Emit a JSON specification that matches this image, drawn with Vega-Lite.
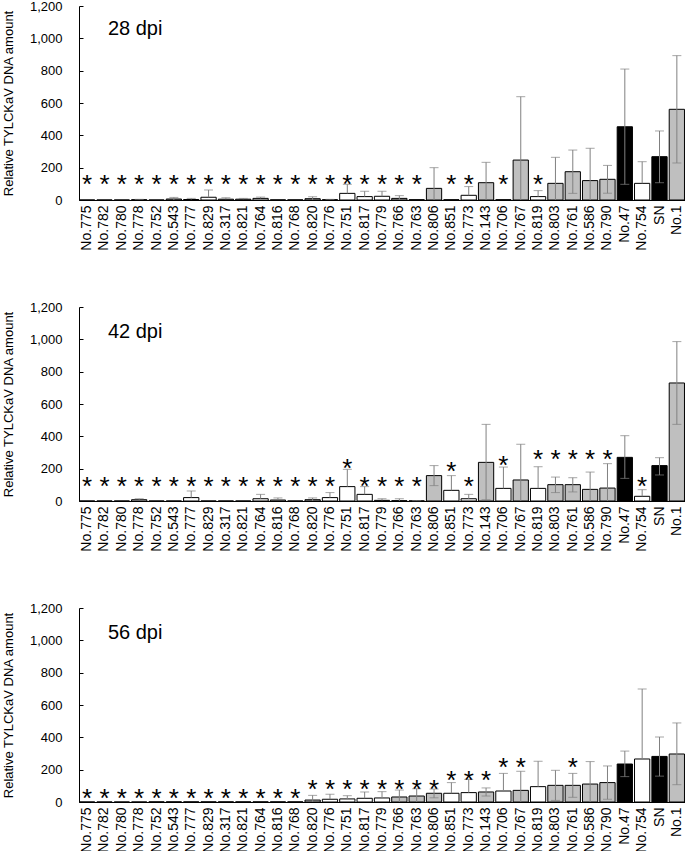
{
  "$schema": "https://vega.github.io/schema/vega-lite/v6.json",
  "padding": {"left": 2, "top": 0, "right": 0, "bottom": 0},
  "config": {
    "font": "Liberation Sans",
    "view": {"stroke": null},
    "axis": {"labelColor": "#000", "titleColor": "#000", "domainColor": "#000", "tickColor": "#000", "grid": false, "titleFontWeight": "normal"},
    "axisY": {"labelOverlap": false, "labelFontSize": 13, "titleFontSize": 13, "tickSize": -4, "labelPadding": 21, "titlePadding": 14, "format": ",d", "values": [0, 200, 400, 600, 800, 1000, 1200]},
    "concat": {"spacing": 50}
  },
  "datasets": {
    "d": [
      {"dpi": 28, "g": "No.775", "c": "w", "v": 0, "hi": 0, "lo": 0, "cap": null, "s": 134},
      {"dpi": 28, "g": "No.782", "c": "w", "v": 0, "hi": 0, "lo": 0, "cap": null, "s": 134},
      {"dpi": 28, "g": "No.780", "c": "w", "v": 0, "hi": 0, "lo": 0, "cap": null, "s": 134},
      {"dpi": 28, "g": "No.778", "c": "w", "v": 2, "hi": 4, "lo": 2, "cap": null, "s": 134},
      {"dpi": 28, "g": "No.752", "c": "w", "v": 0, "hi": 0, "lo": 0, "cap": null, "s": 134},
      {"dpi": 28, "g": "No.543", "c": "g", "v": 6, "hi": 16, "lo": 0, "cap": null, "s": 134},
      {"dpi": 28, "g": "No.777", "c": "w", "v": 3, "hi": 10, "lo": 3, "cap": null, "s": 134},
      {"dpi": 28, "g": "No.829", "c": "w", "v": 17, "hi": 62, "lo": 17, "cap": null, "s": 134},
      {"dpi": 28, "g": "No.317", "c": "w", "v": 5, "hi": 14, "lo": 5, "cap": null, "s": 134},
      {"dpi": 28, "g": "No.821", "c": "w", "v": 5, "hi": 10, "lo": 5, "cap": null, "s": 134},
      {"dpi": 28, "g": "No.764", "c": "w", "v": 10, "hi": 18, "lo": 10, "cap": null, "s": 134},
      {"dpi": 28, "g": "No.816", "c": "w", "v": 1, "hi": 1, "lo": 1, "cap": null, "s": 134},
      {"dpi": 28, "g": "No.768", "c": "w", "v": 1, "hi": 1, "lo": 1, "cap": null, "s": 134},
      {"dpi": 28, "g": "No.820", "c": "g", "v": 8, "hi": 20, "lo": 0, "cap": null, "s": 134},
      {"dpi": 28, "g": "No.776", "c": "w", "v": 2, "hi": 4, "lo": 2, "cap": null, "s": 134},
      {"dpi": 28, "g": "No.751", "c": "w", "v": 41, "hi": 97, "lo": 41, "cap": null, "s": 134},
      {"dpi": 28, "g": "No.817", "c": "w", "v": 21, "hi": 54, "lo": 21, "cap": null, "s": 134},
      {"dpi": 28, "g": "No.779", "c": "w", "v": 23, "hi": 54, "lo": 23, "cap": null, "s": 134},
      {"dpi": 28, "g": "No.766", "c": "g", "v": 10, "hi": 27, "lo": 0, "cap": null, "s": 134},
      {"dpi": 28, "g": "No.763", "c": "g", "v": 2, "hi": 2, "lo": 2, "cap": null, "s": 134},
      {"dpi": 28, "g": "No.806", "c": "g", "v": 72, "hi": 200, "lo": 0, "cap": null, "s": null},
      {"dpi": 28, "g": "No.851", "c": "w", "v": 2, "hi": 2, "lo": 2, "cap": null, "s": 134},
      {"dpi": 28, "g": "No.773", "c": "w", "v": 29, "hi": 83, "lo": 29, "cap": null, "s": 134},
      {"dpi": 28, "g": "No.143", "c": "g", "v": 107, "hi": 233, "lo": 0, "cap": null, "s": null},
      {"dpi": 28, "g": "No.706", "c": "w", "v": 2, "hi": 2, "lo": 2, "cap": null, "s": 134},
      {"dpi": 28, "g": "No.767", "c": "g", "v": 247, "hi": 639, "lo": 0, "cap": null, "s": null},
      {"dpi": 28, "g": "No.819", "c": "w", "v": 21, "hi": 58, "lo": 21, "cap": null, "s": 134},
      {"dpi": 28, "g": "No.803", "c": "g", "v": 103, "hi": 264, "lo": 0, "cap": null, "s": null},
      {"dpi": 28, "g": "No.761", "c": "g", "v": 175, "hi": 309, "lo": 41, "cap": 41, "s": null},
      {"dpi": 28, "g": "No.586", "c": "g", "v": 120, "hi": 320, "lo": 0, "cap": null, "s": null},
      {"dpi": 28, "g": "No.790", "c": "g", "v": 128, "hi": 214, "lo": 42, "cap": 42, "s": null},
      {"dpi": 28, "g": "No.47", "c": "b", "v": 453, "hi": 810, "lo": 97, "cap": 97, "s": null},
      {"dpi": 28, "g": "No.754", "c": "w", "v": 103, "hi": 237, "lo": 103, "cap": null, "s": null},
      {"dpi": 28, "g": "SN", "c": "b", "v": 268, "hi": 427, "lo": 107, "cap": 107, "s": null},
      {"dpi": 28, "g": "No.1", "c": "g", "v": 561, "hi": 893, "lo": 229, "cap": 229, "s": null},

      {"dpi": 42, "g": "No.775", "c": "w", "v": 0, "hi": 0, "lo": 0, "cap": null, "s": 128},
      {"dpi": 42, "g": "No.782", "c": "w", "v": 0, "hi": 0, "lo": 0, "cap": null, "s": 128},
      {"dpi": 42, "g": "No.780", "c": "w", "v": 0, "hi": 0, "lo": 0, "cap": null, "s": 128},
      {"dpi": 42, "g": "No.778", "c": "w", "v": 8, "hi": 14, "lo": 8, "cap": null, "s": 128},
      {"dpi": 42, "g": "No.752", "c": "w", "v": 0, "hi": 0, "lo": 0, "cap": null, "s": 128},
      {"dpi": 42, "g": "No.543", "c": "g", "v": 0, "hi": 0, "lo": 0, "cap": null, "s": 128},
      {"dpi": 42, "g": "No.777", "c": "w", "v": 21, "hi": 62, "lo": 21, "cap": null, "s": 128},
      {"dpi": 42, "g": "No.829", "c": "w", "v": 0, "hi": 0, "lo": 0, "cap": null, "s": 128},
      {"dpi": 42, "g": "No.317", "c": "w", "v": 0, "hi": 0, "lo": 0, "cap": null, "s": 128},
      {"dpi": 42, "g": "No.821", "c": "w", "v": 0, "hi": 0, "lo": 0, "cap": null, "s": 128},
      {"dpi": 42, "g": "No.764", "c": "w", "v": 14, "hi": 41, "lo": 14, "cap": null, "s": 128},
      {"dpi": 42, "g": "No.816", "c": "w", "v": 6, "hi": 19, "lo": 6, "cap": null, "s": 128},
      {"dpi": 42, "g": "No.768", "c": "w", "v": 0, "hi": 0, "lo": 0, "cap": null, "s": 128},
      {"dpi": 42, "g": "No.820", "c": "g", "v": 8, "hi": 19, "lo": 0, "cap": null, "s": 128},
      {"dpi": 42, "g": "No.776", "c": "w", "v": 21, "hi": 52, "lo": 21, "cap": null, "s": 128},
      {"dpi": 42, "g": "No.751", "c": "w", "v": 89, "hi": 196, "lo": 89, "cap": null, "s": 241},
      {"dpi": 42, "g": "No.817", "c": "w", "v": 41, "hi": 89, "lo": 41, "cap": null, "s": 128},
      {"dpi": 42, "g": "No.779", "c": "w", "v": 4, "hi": 14, "lo": 4, "cap": null, "s": 128},
      {"dpi": 42, "g": "No.766", "c": "g", "v": 2, "hi": 14, "lo": 0, "cap": null, "s": 128},
      {"dpi": 42, "g": "No.763", "c": "g", "v": 1, "hi": 2, "lo": 0, "cap": null, "s": 128},
      {"dpi": 42, "g": "No.806", "c": "g", "v": 157, "hi": 219, "lo": 95, "cap": 95, "s": null},
      {"dpi": 42, "g": "No.851", "c": "w", "v": 66, "hi": 157, "lo": 66, "cap": null, "s": 221},
      {"dpi": 42, "g": "No.773", "c": "w", "v": 14, "hi": 41, "lo": 14, "cap": null, "s": 128},
      {"dpi": 42, "g": "No.143", "c": "g", "v": 239, "hi": 474, "lo": 8, "cap": 8, "s": null},
      {"dpi": 42, "g": "No.706", "c": "w", "v": 78, "hi": 210, "lo": 78, "cap": null, "s": 258},
      {"dpi": 42, "g": "No.767", "c": "g", "v": 130, "hi": 351, "lo": 0, "cap": null, "s": null},
      {"dpi": 42, "g": "No.819", "c": "w", "v": 78, "hi": 212, "lo": 78, "cap": null, "s": 295},
      {"dpi": 42, "g": "No.803", "c": "g", "v": 101, "hi": 148, "lo": 52, "cap": 52, "s": 295},
      {"dpi": 42, "g": "No.761", "c": "g", "v": 101, "hi": 144, "lo": 56, "cap": 56, "s": 295},
      {"dpi": 42, "g": "No.586", "c": "g", "v": 72, "hi": 179, "lo": 0, "cap": null, "s": 295},
      {"dpi": 42, "g": "No.790", "c": "g", "v": 80, "hi": 231, "lo": 0, "cap": null, "s": 295},
      {"dpi": 42, "g": "No.47", "c": "b", "v": 270, "hi": 404, "lo": 140, "cap": 140, "s": null},
      {"dpi": 42, "g": "No.754", "c": "w", "v": 29, "hi": 70, "lo": 29, "cap": null, "s": 128},
      {"dpi": 42, "g": "SN", "c": "b", "v": 219, "hi": 268, "lo": 161, "cap": 161, "s": null},
      {"dpi": 42, "g": "No.1", "c": "g", "v": 730, "hi": 986, "lo": 474, "cap": 474, "s": null},

      {"dpi": 56, "g": "No.775", "c": "w", "v": 0, "hi": 0, "lo": 0, "cap": null, "s": 64},
      {"dpi": 56, "g": "No.782", "c": "w", "v": 0, "hi": 0, "lo": 0, "cap": null, "s": 64},
      {"dpi": 56, "g": "No.780", "c": "w", "v": 0, "hi": 0, "lo": 0, "cap": null, "s": 64},
      {"dpi": 56, "g": "No.778", "c": "w", "v": 0, "hi": 0, "lo": 0, "cap": null, "s": 64},
      {"dpi": 56, "g": "No.752", "c": "w", "v": 1, "hi": 1, "lo": 1, "cap": null, "s": 64},
      {"dpi": 56, "g": "No.543", "c": "g", "v": 1, "hi": 1, "lo": 1, "cap": null, "s": 64},
      {"dpi": 56, "g": "No.777", "c": "w", "v": 1, "hi": 1, "lo": 1, "cap": null, "s": 64},
      {"dpi": 56, "g": "No.829", "c": "w", "v": 1, "hi": 1, "lo": 1, "cap": null, "s": 64},
      {"dpi": 56, "g": "No.317", "c": "w", "v": 1, "hi": 1, "lo": 1, "cap": null, "s": 64},
      {"dpi": 56, "g": "No.821", "c": "w", "v": 1, "hi": 1, "lo": 1, "cap": null, "s": 64},
      {"dpi": 56, "g": "No.764", "c": "w", "v": 1, "hi": 1, "lo": 1, "cap": null, "s": 64},
      {"dpi": 56, "g": "No.816", "c": "w", "v": 1, "hi": 1, "lo": 1, "cap": null, "s": 64},
      {"dpi": 56, "g": "No.768", "c": "w", "v": 1, "hi": 1, "lo": 1, "cap": null, "s": 64},
      {"dpi": 56, "g": "No.820", "c": "g", "v": 12, "hi": 41, "lo": 0, "cap": null, "s": 120},
      {"dpi": 56, "g": "No.776", "c": "w", "v": 17, "hi": 48, "lo": 17, "cap": null, "s": 120},
      {"dpi": 56, "g": "No.751", "c": "w", "v": 19, "hi": 39, "lo": 19, "cap": null, "s": 120},
      {"dpi": 56, "g": "No.817", "c": "w", "v": 23, "hi": 62, "lo": 23, "cap": null, "s": 120},
      {"dpi": 56, "g": "No.779", "c": "w", "v": 25, "hi": 64, "lo": 25, "cap": null, "s": 120},
      {"dpi": 56, "g": "No.766", "c": "g", "v": 31, "hi": 74, "lo": 0, "cap": null, "s": 120},
      {"dpi": 56, "g": "No.763", "c": "g", "v": 37, "hi": 82, "lo": 0, "cap": null, "s": 120},
      {"dpi": 56, "g": "No.806", "c": "g", "v": 54, "hi": 80, "lo": 26, "cap": 26, "s": 120},
      {"dpi": 56, "g": "No.851", "c": "w", "v": 54, "hi": 120, "lo": 54, "cap": null, "s": 173},
      {"dpi": 56, "g": "No.773", "c": "w", "v": 58, "hi": 140, "lo": 58, "cap": null, "s": 173},
      {"dpi": 56, "g": "No.143", "c": "g", "v": 62, "hi": 87, "lo": 37, "cap": 37, "s": 173},
      {"dpi": 56, "g": "No.706", "c": "w", "v": 68, "hi": 177, "lo": 68, "cap": null, "s": 256},
      {"dpi": 56, "g": "No.767", "c": "g", "v": 72, "hi": 190, "lo": 0, "cap": null, "s": 256},
      {"dpi": 56, "g": "No.819", "c": "w", "v": 95, "hi": 252, "lo": 95, "cap": null, "s": null},
      {"dpi": 56, "g": "No.803", "c": "g", "v": 103, "hi": 196, "lo": 10, "cap": 10, "s": null},
      {"dpi": 56, "g": "No.761", "c": "g", "v": 103, "hi": 177, "lo": 29, "cap": 29, "s": 256},
      {"dpi": 56, "g": "No.586", "c": "g", "v": 111, "hi": 250, "lo": 0, "cap": null, "s": null},
      {"dpi": 56, "g": "No.790", "c": "g", "v": 120, "hi": 223, "lo": 17, "cap": 17, "s": null},
      {"dpi": 56, "g": "No.47", "c": "b", "v": 235, "hi": 315, "lo": 157, "cap": 157, "s": null},
      {"dpi": 56, "g": "No.754", "c": "w", "v": 266, "hi": 699, "lo": 266, "cap": null, "s": null},
      {"dpi": 56, "g": "SN", "c": "b", "v": 282, "hi": 402, "lo": 160, "cap": 160, "s": null},
      {"dpi": 56, "g": "No.1", "c": "g", "v": 297, "hi": 489, "lo": 107, "cap": 107, "s": null}
    ],
    "lab": [
      {"dpi": 28, "t": "28 dpi"},
      {"dpi": 42, "t": "42 dpi"},
      {"dpi": 56, "t": "56 dpi"}
    ]
  },
  "vconcat": [
    {
      "width": 606, "height": 194,
      "data": {"name": "d"},
      "transform": [{"filter": "datum.dpi == 28"}],
      "encoding": {
        "x": {"field": "g", "type": "nominal", "sort": null, "scale": {"paddingInner": 0.12, "paddingOuter": 0.03},
          "axis": {"title": null, "labelAngle": -90, "labelFontSize": 14, "ticks": false, "labelPadding": 5}}
      },
      "layer": [
        {"mark": {"type": "bar", "stroke": "#000", "strokeWidth": 1},
         "encoding": {
           "y": {"field": "v", "type": "quantitative", "scale": {"domain": [0, 1200]},
             "axis": {"title": "Relative TYLCKaV DNA amount"}},
           "fill": {"field": "c", "type": "nominal", "legend": null, "scale": {"domain": ["w", "g", "b"], "range": ["#ffffff", "#bfbfbf", "#000000"]}}
         }},
        {"transform": [{"filter": "datum.hi > datum.lo"}], "mark": {"type": "rule", "color": "#808080", "strokeWidth": 1},
         "encoding": {"y": {"field": "lo", "type": "quantitative"}, "y2": {"field": "hi"}}},
        {"transform": [{"filter": "datum.hi > datum.v"}], "mark": {"type": "tick", "color": "#808080", "thickness": 1, "size": 9},
         "encoding": {"y": {"field": "hi", "type": "quantitative"}}},
        {"transform": [{"filter": "isValid(datum.cap)"}], "mark": {"type": "tick", "color": "#808080", "thickness": 1, "size": 9},
         "encoding": {"y": {"field": "cap", "type": "quantitative"}}},
        {"transform": [{"filter": "isValid(datum.s)"}], "mark": {"type": "text", "text": "*", "fontSize": 26, "baseline": "alphabetic", "dy": 15, "color": "#000"},
         "encoding": {"y": {"field": "s", "type": "quantitative"}}},
        {"data": {"name": "lab"}, "transform": [{"filter": "datum.dpi == 28"}],
         "mark": {"type": "text", "fontSize": 20, "align": "center", "baseline": "middle", "dx": -4, "color": "#000"},
         "encoding": {"x": {"datum": "No.778"}, "y": {"datum": 1055}, "text": {"field": "t"}}}
      ]
    },
    {
      "width": 606, "height": 194,
      "data": {"name": "d"},
      "transform": [{"filter": "datum.dpi == 42"}],
      "encoding": {
        "x": {"field": "g", "type": "nominal", "sort": null, "scale": {"paddingInner": 0.12, "paddingOuter": 0.03},
          "axis": {"title": null, "labelAngle": -90, "labelFontSize": 14, "ticks": false, "labelPadding": 5}}
      },
      "layer": [
        {"mark": {"type": "bar", "stroke": "#000", "strokeWidth": 1},
         "encoding": {
           "y": {"field": "v", "type": "quantitative", "scale": {"domain": [0, 1200]},
             "axis": {"title": "Relative TYLCKaV DNA amount"}},
           "fill": {"field": "c", "type": "nominal", "legend": null, "scale": {"domain": ["w", "g", "b"], "range": ["#ffffff", "#bfbfbf", "#000000"]}}
         }},
        {"transform": [{"filter": "datum.hi > datum.lo"}], "mark": {"type": "rule", "color": "#808080", "strokeWidth": 1},
         "encoding": {"y": {"field": "lo", "type": "quantitative"}, "y2": {"field": "hi"}}},
        {"transform": [{"filter": "datum.hi > datum.v"}], "mark": {"type": "tick", "color": "#808080", "thickness": 1, "size": 9},
         "encoding": {"y": {"field": "hi", "type": "quantitative"}}},
        {"transform": [{"filter": "isValid(datum.cap)"}], "mark": {"type": "tick", "color": "#808080", "thickness": 1, "size": 9},
         "encoding": {"y": {"field": "cap", "type": "quantitative"}}},
        {"transform": [{"filter": "isValid(datum.s)"}], "mark": {"type": "text", "text": "*", "fontSize": 26, "baseline": "alphabetic", "dy": 15, "color": "#000"},
         "encoding": {"y": {"field": "s", "type": "quantitative"}}},
        {"data": {"name": "lab"}, "transform": [{"filter": "datum.dpi == 42"}],
         "mark": {"type": "text", "fontSize": 20, "align": "center", "baseline": "middle", "dx": -4, "color": "#000"},
         "encoding": {"x": {"datum": "No.778"}, "y": {"datum": 1045}, "text": {"field": "t"}}}
      ]
    },
    {
      "width": 606, "height": 194,
      "data": {"name": "d"},
      "transform": [{"filter": "datum.dpi == 56"}],
      "encoding": {
        "x": {"field": "g", "type": "nominal", "sort": null, "scale": {"paddingInner": 0.12, "paddingOuter": 0.03},
          "axis": {"title": null, "labelAngle": -90, "labelFontSize": 14, "ticks": false, "labelPadding": 5}}
      },
      "layer": [
        {"mark": {"type": "bar", "stroke": "#000", "strokeWidth": 1},
         "encoding": {
           "y": {"field": "v", "type": "quantitative", "scale": {"domain": [0, 1200]},
             "axis": {"title": "Relative TYLCKaV DNA amount"}},
           "fill": {"field": "c", "type": "nominal", "legend": null, "scale": {"domain": ["w", "g", "b"], "range": ["#ffffff", "#bfbfbf", "#000000"]}}
         }},
        {"transform": [{"filter": "datum.hi > datum.lo"}], "mark": {"type": "rule", "color": "#808080", "strokeWidth": 1},
         "encoding": {"y": {"field": "lo", "type": "quantitative"}, "y2": {"field": "hi"}}},
        {"transform": [{"filter": "datum.hi > datum.v"}], "mark": {"type": "tick", "color": "#808080", "thickness": 1, "size": 9},
         "encoding": {"y": {"field": "hi", "type": "quantitative"}}},
        {"transform": [{"filter": "isValid(datum.cap)"}], "mark": {"type": "tick", "color": "#808080", "thickness": 1, "size": 9},
         "encoding": {"y": {"field": "cap", "type": "quantitative"}}},
        {"transform": [{"filter": "isValid(datum.s)"}], "mark": {"type": "text", "text": "*", "fontSize": 26, "baseline": "alphabetic", "dy": 15, "color": "#000"},
         "encoding": {"y": {"field": "s", "type": "quantitative"}}},
        {"data": {"name": "lab"}, "transform": [{"filter": "datum.dpi == 56"}],
         "mark": {"type": "text", "fontSize": 20, "align": "center", "baseline": "middle", "dx": -4, "color": "#000"},
         "encoding": {"x": {"datum": "No.778"}, "y": {"datum": 1045}, "text": {"field": "t"}}}
      ]
    }
  ]
}
